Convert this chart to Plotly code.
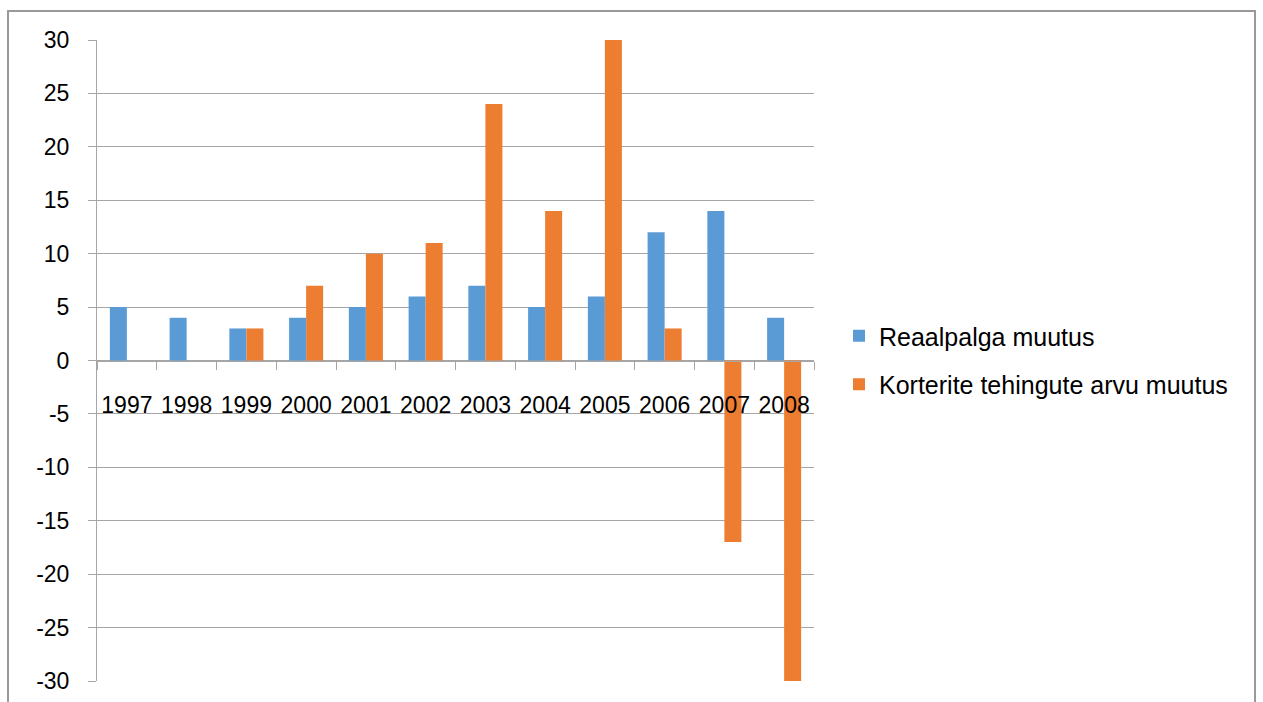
import plotly.graph_objects as go

years = ["1997", "1998", "1999", "2000", "2001", "2002", "2003", "2004", "2005", "2006", "2007", "2008"]
reaalpalk = [5, 4, 3, 4, 5, 6, 7, 5, 6, 12, 14, 4]
korterid = [None, None, 3, 7, 10, 11, 24, 14, 30, 3, -17, -30]
y_ticks = [30, 25, 20, 15, 10, 5, 0, -5, -10, -15, -20, -25, -30]
y_tick_labels = ["30", "25", "20", "15", "10", "5", "0", "-5", "-10", "-15", "-20", "-25", "-30"]

FONT = "Liberation Sans, Arial, sans-serif"
GRID = "#a6a6a6"

fig = go.Figure()
fig.add_trace(go.Bar(x=years, y=reaalpalk, name="Reaalpalga muutus",
                     marker=dict(color="#5B9BD5", line=dict(width=0)),
                     legendgroup="a"))
fig.add_trace(go.Bar(x=years, y=korterid, name="Korterite tehingute arvu muutus",
                     marker=dict(color="#ED7D31", line=dict(width=0)),
                     legendgroup="b"))

L, R, T, B = 97, 814, 40, 681
W, H = 1263, 702
pw, ph = R - L, B - T

def px_x(x):
    return (x - L) / pw

def px_y(y):
    return (B - y) / ph

fig.update_layout(
    width=W, height=H,
    margin=dict(l=L, r=W - R, t=T, b=H - B, pad=0, autoexpand=False),
    paper_bgcolor="white", plot_bgcolor="white",
    font=dict(family=FONT, size=23, color="black"),
    barmode="group", bargap=0.43, bargroupgap=0,
    showlegend=True,
    legend=dict(x=px_x(839), y=px_y(360), xanchor="left", yanchor="middle",
                traceorder="grouped", tracegroupgap=13, itemwidth=30,
                font=dict(family=FONT, size=25, color="black"),
                bgcolor="rgba(0,0,0,0)"),
    xaxis=dict(type="category", anchor="free", position=0.5, automargin=False,
               showline=True, linecolor=GRID, linewidth=1,
               ticks="outside", tickson="boundaries", ticklen=8, tickcolor=GRID,
               showgrid=False, zeroline=False, ticklabelstandoff=24, tickangle=0,
               tickfont=dict(family=FONT, size=23, color="black")),
    yaxis=dict(range=[-30, 30], tickvals=y_ticks, ticktext=y_tick_labels, automargin=False,
               showgrid=True, gridcolor=GRID, gridwidth=1,
               showline=True, linecolor=GRID, linewidth=1,
               ticks="outside", ticklen=8, tickcolor=GRID, zeroline=False,
               ticklabelstandoff=14,
               tickfont=dict(family=FONT, size=23, color="black")),
    shapes=[dict(type="rect", xref="paper", yref="paper",
                 x0=px_x(8), x1=px_x(1255), y0=px_y(720), y1=px_y(11),
                 line=dict(color="#999999", width=2), fillcolor="rgba(0,0,0,0)",
                 layer="below")],
)

fig.write_html("out.html")
